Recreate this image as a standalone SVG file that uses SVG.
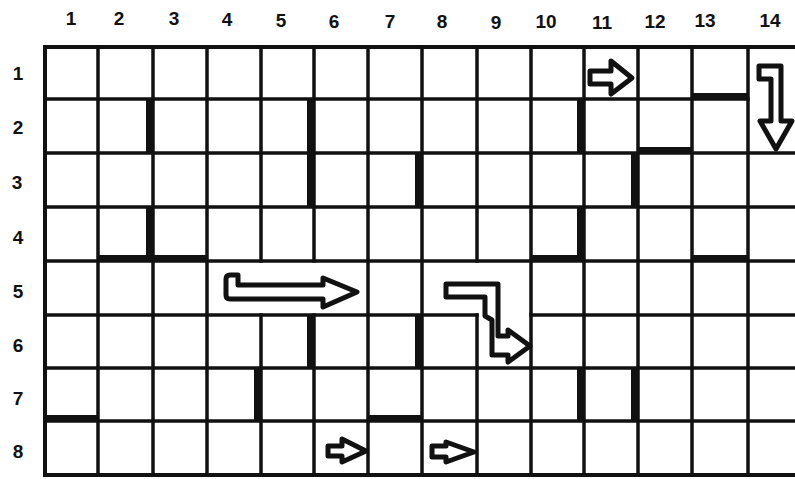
<svg xmlns="http://www.w3.org/2000/svg" width="795" height="479" viewBox="0 0 795 479">
<style>
.grid{stroke:#111;stroke-width:3.5;fill:none;stroke-linecap:square}
.border{stroke:#111;stroke-width:4;fill:none;stroke-linecap:square}
.wall{fill:#111}
.arrow{fill:#fff;stroke:#111;stroke-width:5;stroke-linejoin:round}
.lbl{font-family:"Liberation Sans",Arial,sans-serif;font-weight:bold;font-size:19px;text-anchor:middle;fill:#111}
</style>
<rect width="795" height="479" fill="#fff"/>
<g id="grid">
<path class="border" d="M45,47 H795 M45,47 V475 M45,475 H795"/>
<path class="grid" d="M98,47 V475 M153,47 V475 M207,47 V475 M261,47 V261 M261,315 V475 M314,47 V261 M314,315 V475 M368,47 V475 M422,47 V475 M477,47 V261 M477,315 V475 M531,47 V475 M584,47 V475 M638,47 V475 M692,47 V475 M748,47 V475"/>
<path class="grid" d="M45,99 H748 M45,153 H795 M45,207 H795 M45,261 H795 M45,315 H477 M531,315 H795 M45,368 H795 M45,421 H795"/>
</g>
<g id="walls">
<rect class="wall" x="146" y="99" width="8" height="54"/>
<rect class="wall" x="146" y="207" width="8" height="54"/>
<rect class="wall" x="307" y="99" width="8" height="108"/>
<rect class="wall" x="307" y="315" width="8" height="53"/>
<rect class="wall" x="415" y="153" width="8" height="54"/>
<rect class="wall" x="415" y="315" width="8" height="53"/>
<rect class="wall" x="577" y="99" width="8" height="54"/>
<rect class="wall" x="577" y="207" width="8" height="54"/>
<rect class="wall" x="577" y="368" width="8" height="53"/>
<rect class="wall" x="631" y="153" width="8" height="54"/>
<rect class="wall" x="631" y="368" width="8" height="53"/>
<rect class="wall" x="254" y="368" width="8" height="53"/>
<rect class="wall" x="692" y="93" width="56" height="7"/>
<rect class="wall" x="638" y="147" width="54" height="7"/>
<rect class="wall" x="98" y="255" width="109" height="7"/>
<rect class="wall" x="531" y="255" width="53" height="7"/>
<rect class="wall" x="692" y="255" width="56" height="7"/>
<rect class="wall" x="45" y="415" width="53" height="7"/>
<rect class="wall" x="368" y="415" width="54" height="7"/>
</g>
<g id="arrows">
<path id="arrow-r1c11" class="arrow" d="M590,71 L611,71 L611,61 L632,78 L611,94 L611,84 L590,84 Z"/>
<path id="arrow-c14" class="arrow" d="M759,66 L781,66 L781,121 L792,121 L776,149 L760,121 L771,121 L771,79 L759,79 Z"/>
<path id="arrow-r5" class="arrow" d="M226,279 Q226,275 230,275 L238,275 L238,285 L323,285 L323,278 L357,292 L323,307 L323,299 L230,299 Q226,299 226,295 Z"/>
<path id="arrow-bent" class="arrow" d="M446,284 L498,284 L498,336 L508,336 L508,330 L530,346 L508,362 L508,355 L492,355 L492,320 L485,316 L485,297 L446,297 Z"/>
<path id="arrow-r8c6" class="arrow" d="M328,446 L342,446 L342,439 L366,451 L342,462 L342,456 L328,456 Z"/>
<path id="arrow-r8c8" class="arrow" d="M432,446 L446,446 L446,442 L474,452 L446,462 L446,457 L432,457 Z"/>
</g>
<g id="col-labels">
<text class="lbl" x="71" y="25">1</text>
<text class="lbl" x="119" y="25">2</text>
<text class="lbl" x="174" y="25">3</text>
<text class="lbl" x="227" y="26">4</text>
<text class="lbl" x="281" y="27">5</text>
<text class="lbl" x="334" y="28">6</text>
<text class="lbl" x="390" y="28">7</text>
<text class="lbl" x="442" y="28">8</text>
<text class="lbl" x="496" y="29">9</text>
<text class="lbl" x="546" y="28">10</text>
<text class="lbl" x="602" y="29">11</text>
<text class="lbl" x="655" y="28">12</text>
<text class="lbl" x="705" y="27">13</text>
<text class="lbl" x="770" y="27">14</text>
</g>
<g id="row-labels">
<text class="lbl" x="18" y="80">1</text>
<text class="lbl" x="18" y="134">2</text>
<text class="lbl" x="17" y="189">3</text>
<text class="lbl" x="18" y="244">4</text>
<text class="lbl" x="18" y="298">5</text>
<text class="lbl" x="18" y="352">6</text>
<text class="lbl" x="18" y="405">7</text>
<text class="lbl" x="18" y="458">8</text>
</g>
</svg>
